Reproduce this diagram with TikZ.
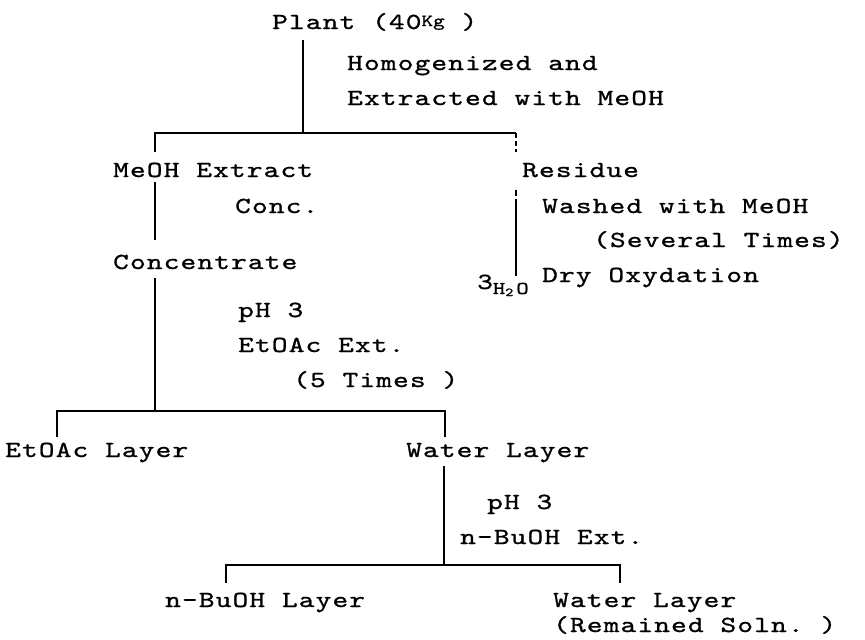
\documentclass[tikz,border=0pt]{standalone}
\usepackage{fontspec}
\setmonofont[Extension=.otf, FakeStretch=1.3, FakeBold=1.0, LetterSpace=5]{lmmono10-regular}
\begin{document}
\begin{tikzpicture}[x=1pt,y=-1pt,
  lbl/.style={font=\ttfamily\fontsize{23}{23}\selectfont, inner sep=0pt, anchor=base west},
  link/.style={line width=1.3pt, black},
  faint/.style={line width=1.1pt, black, dash pattern=on 6pt off 3pt on 80pt off 3pt}]
\useasboundingbox (0,0) rectangle (865,640);
% texts
\node[lbl] (plant) at (272,29) {Plant (40{\fontsize{17}{17}\selectfont\addfontfeature{LetterSpace=0}\raisebox{3pt}{Kg}} )};
\node[lbl] (homog) at (347,70) {Homogenized and};
\node[lbl] (extr) at (347,105) {Extracted with MeOH};
\node[lbl] (meoh) at (113,177) {MeOH Extract};
\node[lbl] (resid) at (522,177) {Residue};
\node[lbl] (conc) at (235,213) {Conc.};
\node[lbl] (washed) at (542,213) {Washed with MeOH};
\node[lbl] (several) at (593,247) {(Several Times)};
\node[lbl] (concentrate) at (113,269) {Concentrate};
\node[lbl] (dry) at (542,282) {Dry Oxydation};
\node[lbl] (water3) at (477,289) {3{\fontsize{18}{18}\selectfont\addfontfeature{LetterSpace=0}\raisebox{-5pt}{H\raisebox{-2pt}{\fontsize{12}{12}\selectfont 2}\,O}}};
\node[lbl] (ph1) at (238,317) {pH 3};
\node[lbl] (etext) at (238,352) {EtOAc Ext.};
\node[lbl] (five) at (293,387) {(5 Times )};
\node[lbl] (etlayer) at (5,457) {EtOAc Layer};
\node[lbl] (wlayer) at (406,457) {Water Layer};
\node[lbl] (ph2) at (487,509) {pH 3};
\node[lbl] (buext) at (460,544) {n—BuOH Ext.};
\node[lbl] (bulayer) at (165,607) {n—BuOH Layer};
\node[lbl] (wlayer2) at (553,607) {Water Layer};
\node[lbl] (remained) at (553,632) {(Remained Soln. )};
% junction coordinates
\coordinate (a0) at (303,40);
\coordinate (a1) at (303,133);
\coordinate (aL) at (155,133);
\coordinate (aR) at (516,133);
\coordinate (aLt) at (155,152);
\coordinate (aRt) at (516,152);
\coordinate (m0) at (155,182);
\coordinate (m1) at (155,240);
\coordinate (c0) at (155,278);
\coordinate (c1) at (155,411);
\coordinate (bL) at (57,411);
\coordinate (bR) at (445,411);
\coordinate (bLt) at (57,437);
\coordinate (bRt) at (445,437);
\coordinate (r0) at (516,190);
\coordinate (r1) at (516,276);
\coordinate (w0) at (444,466);
\coordinate (w1) at (444,565);
\coordinate (dL) at (226,565);
\coordinate (dR) at (620,565);
\coordinate (dLt) at (226,583);
\coordinate (dRt) at (620,583);
% connectors
\draw[link] (a0) -- (a1);
\draw[link] (aLt) -- (aL) -- (a1);
\draw[link] (a1) -- (aR);
\draw[link, line width=1.1pt, dash pattern=on 5pt off 3pt] (aR) -- (aRt);
\draw[link] (m0) -- (m1);
\draw[faint] (r0) -- (r1);
\draw[link] (c0) -- (c1);
\draw[link] (bLt) -- (bL) -- (bR) -- (bRt);
\draw[link] (w0) -- (w1);
\draw[link] (dLt) -- (dL) -- (dR) -- (dRt);
\end{tikzpicture}
\end{document}
